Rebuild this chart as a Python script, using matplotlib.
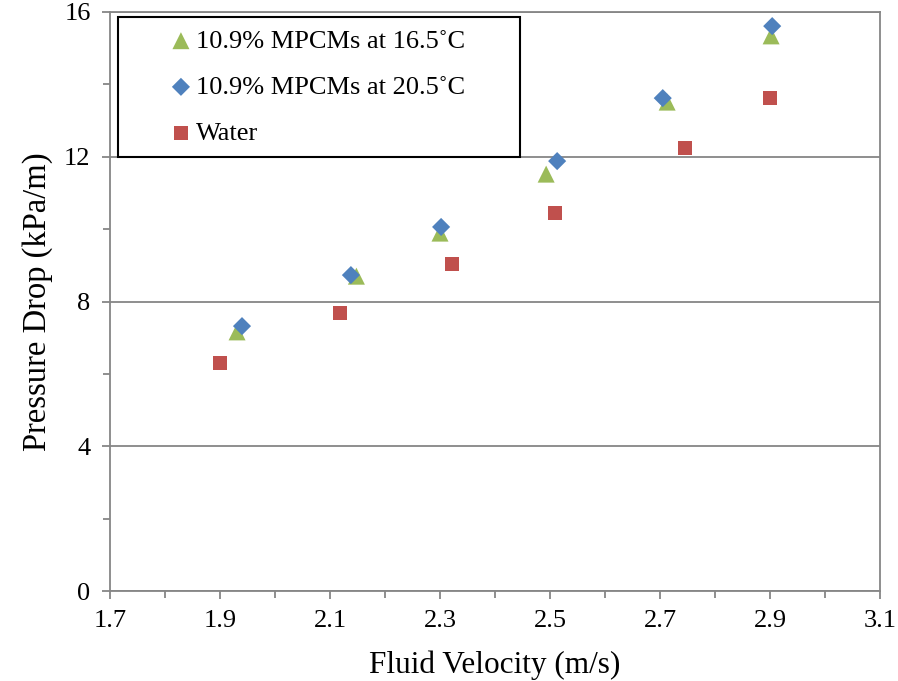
import matplotlib
matplotlib.use("Agg")
import matplotlib.pyplot as plt
from matplotlib.ticker import MultipleLocator

plt.rcParams['font.family'] = ['Liberation Serif', 'DejaVu Serif']

x_165 = [1.931, 2.148, 2.300, 2.493, 2.713, 2.902]
y_165 = [7.16, 8.70, 9.89, 11.52, 13.51, 15.34]
x_205 = [1.940, 2.138, 2.302, 2.513, 2.705, 2.904]
y_205 = [7.32, 8.73, 10.06, 11.88, 13.62, 15.61]
x_water = [1.900, 2.118, 2.322, 2.509, 2.745, 2.900]
y_water = [6.30, 7.68, 9.04, 10.44, 12.24, 13.62]

labels = ['10.9% MPCMs at 16.5˚C', '10.9% MPCMs at 20.5˚C', 'Water']
xticks = [1.7, 1.9, 2.1, 2.3, 2.5, 2.7, 2.9, 3.1]
yticks = [0, 4, 8, 12, 16]

fig = plt.figure(figsize=(8.98, 6.81), dpi=100)
ax = fig.add_axes([110/898, 1-591/681, 770/898, 579/681])

ax.scatter(x_165, y_165, marker='^', s=150, color='#9BBB59', edgecolors='none', label=labels[0], zorder=3)
ax.scatter(x_205, y_205, marker='D', s=85, color='#4F81BD', edgecolors='none', label=labels[1], zorder=4)
ax.scatter(x_water, y_water, marker='s', s=100, color='#C0504D', edgecolors='none', label=labels[2], zorder=3)

ax.set_xlim(1.7, 3.1)
ax.set_ylim(0, 16)
ax.xaxis.set_minor_locator(MultipleLocator(0.1))
ax.yaxis.set_minor_locator(MultipleLocator(2))
ax.set_xticks(xticks)
ax.set_xticklabels([f'{v:.1f}' for v in xticks])
ax.set_yticks(yticks)
ax.set_yticklabels([str(v) for v in yticks])

ax.grid(axis='y', which='major', color='#868686', linewidth=1.3)
ax.set_axisbelow(True)
for s in ['left', 'right', 'bottom', 'top']:
    ax.spines[s].set_color('#868686')
    ax.spines[s].set_linewidth(1.3)
ax.tick_params(axis='both', which='both', direction='out', color='#868686', width=1.3)
ax.tick_params(axis='both', which='major', length=6, labelsize=19, pad=8)
ax.tick_params(axis='both', which='minor', length=5)
ax.tick_params(axis='x', which='both', top=False)
ax.tick_params(axis='y', which='both', right=False)

ax.set_xlabel('Fluid Velocity (m/s)', fontsize=22.5, labelpad=13)
ax.set_ylabel('Pressure Drop (kPa/m)', fontsize=23.5, labelpad=8)

leg = ax.legend(loc='upper left', bbox_to_anchor=(8/770, 1-143/579, 402/770, 138/579),
                mode='expand', fontsize=19, frameon=True, fancybox=False, framealpha=1,
                edgecolor='black', handletextpad=-1.36, labelspacing=0.86,
                borderpad=0.46, handlelength=3.85, scatterpoints=1, borderaxespad=0)
leg.get_frame().set_linewidth(1.5)
leg.set_zorder(10)

fig.savefig('out.png', dpi=100)
